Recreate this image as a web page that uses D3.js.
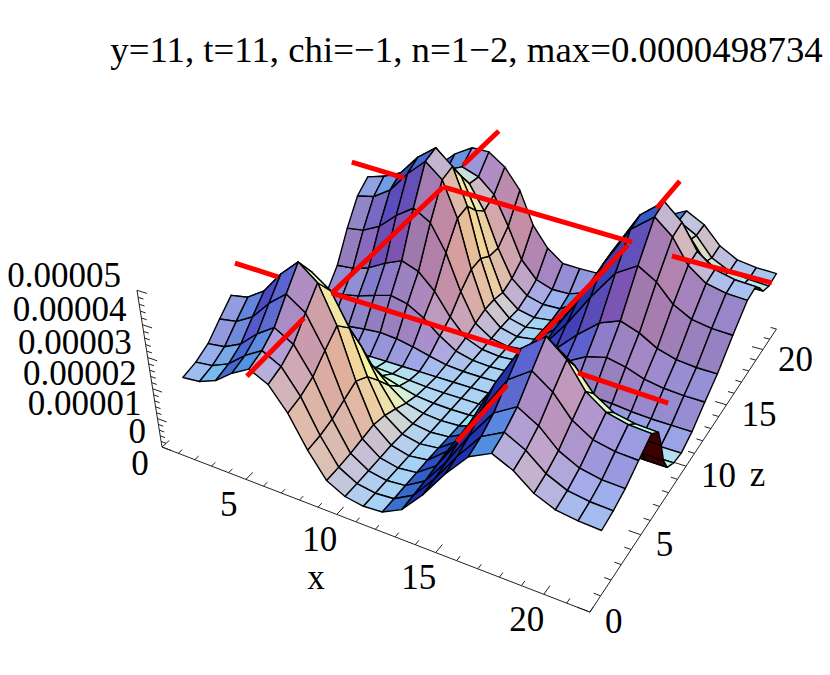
<!DOCTYPE html>
<html>
<head>
<meta charset="utf-8">
<script src="https://cdnjs.cloudflare.com/ajax/libs/d3/7.8.5/d3.min.js"></script>
<style>
  body { margin: 0; background: #fff; }
  text { font-family: "Liberation Serif", serif; fill: #000; }
</style>
</head>
<body>
<div id="chart"></div>
<script>
const titleText = 'y=11, t=11, chi=\u22121, n=1\u22122, max=0.0000498734'

const xValues = [1,1.98,2.95,3.93,4.9,5.88,6.85,7.83,8.8,9.78,10.75,11.73,12.7,13.68,14.65,15.63,16.6,17.58,18.55,19.53,20.5,21.48]
const zValues = [1,1.98,2.95,3.93,4.9,5.88,6.85,7.83,8.8,9.78,10.75,11.73,12.7,13.68,14.65,15.63,16.6,17.58,18.55,19.53,20.5]

// surface heights, unit 1e-7, one row per z, one column per x
const row01 = [218,224,246,288,319,291,221,122,42,10,0,5,38,112,202,278,310,282,237,211,202,198]
const row02 = [231,238,262,306,339,309,235,129,44,10,0,5,41,119,214,296,330,299,252,224,214,211]
const row03 = [255,263,289,338,374,341,259,143,49,11,0,6,45,131,236,326,364,330,278,248,236,233]
const row04 = [299,308,339,396,439,400,304,167,57,13,0,7,53,154,277,383,427,387,326,290,277,273]
const row05 = [340,350,385,450,499,455,345,190,65,15,0,8,60,175,315,435,485,440,370,330,315,310]
const row06 = [299,308,339,396,439,400,304,167,57,13,0,7,53,154,277,383,427,387,326,290,277,273]
const row07 = [211,217,239,279,309,282,214,118,40,9,0,5,37,109,195,270,301,273,229,205,195,192]
const row08 = [112,116,127,149,165,150,114,63,21,5,0,3,20,58,104,144,160,145,122,109,104,102]
const row09 = [41,42,46,54,60,55,41,23,8,2,0,1,7,21,38,52,58,53,44,40,38,37]
const row10 = [10,11,12,14,15,14,10,6,2,0,0,0,2,5,9,13,15,13,11,10,9,9]
const row11 = [0,0,0,0,0,0,0,0,0,0,0,0,0,0,0,0,0,0,0,0,0,0]
const row12 = [34,35,38,45,50,45,34,19,6,1,0,1,6,17,32,43,48,44,37,33,32,31]
const row13 = [99,101,112,130,145,132,100,55,19,4,0,2,17,51,91,126,141,128,107,96,91,90]
const row14 = [156,161,177,207,230,209,159,87,30,7,0,4,28,80,145,200,223,202,170,152,145,143]
const row15 = [252,259,285,333,369,337,255,141,48,11,0,6,44,130,233,322,359,326,274,244,233,229]
const row16 = [330,340,373,436,484,441,335,184,63,15,0,8,58,170,306,422,470,427,359,320,306,301]
const row17 = [364,378,400,460,499,455,345,190,65,15,0,8,60,175,315,435,485,440,370,330,315,310]
const row18 = [320,330,360,420,439,400,304,167,57,13,0,7,53,154,277,383,427,387,326,290,277,273]
const row19 = [280,290,315,360,385,350,275,165,75,30,14,15,52,131,236,326,364,330,278,248,236,233]
const row20 = [250,262,290,335,365,345,300,210,110,55,35,35,55,125,225,305,345,315,260,232,222,216]
const row21 = [280,290,320,370,400,398,362,300,198,134,95,92,91,130,235,320,348,319,268,238,228,224]
const rows = [row01,row02,row03,row04,row05,row06,row07,row08,row09,row10,row11,row12,row13,row14,row15,row16,row17,row18,row19,row20,row21]

// red lattice lines, [x, z] pairs at redHeight, only the parts that show
const redHeight = 4.5e-5
const redLineA = [[[1.52,4.75],[3.96,4.64]], [[6.82,4.6],[15.84,4.31]], [[18.41,4.07],[22.08,3.86]]]
const redLineB = [[[1.0,15.1],[4.25,14.74]], [[6.43,14.74],[16.4,13.8]], [[18.35,13.45],[22.72,13.2]]]
const redLineC = [[[7.14,-1.88],[6.83,2.5]], [[6.82,4.6],[6.43,14.74]], [[6.21,17.09],[6.05,21.08]]]
const redLineD = [[[16.38,-1.63],[16.4,2.18]], [[16.07,5.33],[16.34,13.49]], [[16.2,17.0],[16.17,19.8]]]

const xTicks = [0, 5, 10, 15, 20]
const zTicks = [0, 5, 10, 15, 20]
const hTicks = [0, 1e-5, 2e-5, 3e-5, 4e-5, 5e-5]
const xMinor = d3.range(0, 23)
const zMinor = d3.range(0, 23)
const hMinor = d3.range(0, 26).map(d => d * 2e-6)

const width = 830
const height = 675

const xScale = d3.scaleLinear().domain([0, 22]).range([0, 22])
const zScale = d3.scaleLinear().domain([0, 22]).range([0, 22])
const hScale = d3.scaleLinear().domain([0, 5e-5]).range([0, 1])

// perspective camera, fitted on the box corners
function project(x, z, h) {
  const u = xScale(x), v = zScale(z), t = hScale(h)
  const w = 1 - 0.0078 * u + 0.0104 * v - 0.1136 * t
  return {
    px: (162 + 14.85 * u + 15.1 * v - 40.6 * t) / w,
    py: (447 + 2.73 * u - 7.24 * v - 189.7 * t) / w,
    w: w
  }
}

const svg = d3.select('#chart').append('svg').attr('width', width).attr('height', height)

svg.append('text')
  .attr('x', 466.5).attr('y', 62)
  .attr('text-anchor', 'middle')
  .style('font-size', '36.85px')
  .text(titleText)

const axes = svg.append('g').attr('class', 'axes')
const line = d3.line().x(d => d.px).y(d => d.py)

function axisLine(a, b) {
  axes.append('path').attr('d', line([a, b])).attr('fill', 'none').attr('stroke', '#222').attr('stroke-width', 1)
}

axisLine(project(0, 0, 0), project(22, 0, 0))
axisLine(project(22, 0, 0), project(22, 22, 0))
axisLine(project(0, 0, 0), project(0, 0, 5e-5))

xMinor.forEach(d => {
  const len = d % 5 === 0 ? 0.55 : 0.3
  axisLine(project(d, 0, 0), project(d, len, 0))
})
zMinor.forEach(d => {
  const len = d % 5 === 0 ? 0.55 : 0.3
  axisLine(project(22, d, 0), project(22 - len, d, 0))
})
hMinor.forEach((d, i) => {
  const len = i % 5 === 0 ? 0.55 : 0.3
  axisLine(project(0, 0, d), project(len, 0, d))
})

const labelSize = '35px'

xTicks.forEach(d => {
  const p = project(d, 0, 0)
  const off = d === 0 ? [-22, 16] : [-17, 24]
  axes.append('text').attr('x', p.px + off[0]).attr('y', p.py + off[1]).attr('dy', '.35em')
    .attr('text-anchor', 'middle').style('font-size', labelSize).text(d)
})
zTicks.forEach(d => {
  const p = project(22, d, 0)
  axes.append('text').attr('x', p.px + 15).attr('y', p.py + 9).attr('dy', '.35em')
    .attr('text-anchor', 'start').style('font-size', labelSize).text(d)
})
hTicks.forEach(d => {
  const p = project(0, 0, d)
  axes.append('text').attr('x', p.px - 16).attr('y', p.py - 16).attr('dy', '.35em')
    .attr('text-anchor', 'end').style('font-size', labelSize).text(d === 0 ? '0' : d.toFixed(5))
})

const xName = project(11, 0, 0)
axes.append('text').attr('x', xName.px - 40).attr('y', xName.py + 58).attr('dy', '.25em')
  .attr('text-anchor', 'middle').style('font-size', labelSize).text('x')
const zName = project(22, 11, 0)
axes.append('text').attr('x', zName.px + 63).attr('y', zName.py + 24).attr('dy', '.25em')
  .attr('text-anchor', 'middle').style('font-size', labelSize).text('z')

// view axes of the box, used for the three coloured lights
const ex = [0.883, -0.287, 0.373]
const ez = [0.470, 0.547, -0.693]
const eh = [-0.005, 0.787, 0.618]
const lights = [[0.7071, 0, 0.7071], [0.5774, 0.5774, 0.5774], [0, 0.7071, 0.7071]]

// colour response fitted on flat, wall, ridge and slope cells: base, then normal x, y, z
const redFit = [0.813, 0.231, -0.064, -0.15]
const greenFit = [0.831, 0.1155, 0.215, -0.292]
const blueFit = [0.5, -0.0618, 0.368, 0.266]

function fitted(f, n) {
  return f[0] + f[1] * n[0] + f[2] * n[1] + f[3] * n[2]
}

function shade(hx, hz) {
  let n = [0, 1, 2].map(i => -hx * ex[i] - hz * ez[i] + eh[i])
  const len = Math.hypot(n[0], n[1], n[2])
  n = n.map(d => d / len)
  // cells seen from below get their normal turned to the viewer, and so nearly no light
  const flipped = n[2] < 0
  if (flipped) n = n.map(d => -d)
  const c = lights.map(l => Math.max(0, n[0] * l[0] + n[1] * l[1] + n[2] * l[2]))
  if (flipped) return d3.rgb(60 + 150 * c[0], 150 * c[1], 150 * c[2]).formatHex()
  let r = Math.min(fitted(redFit, n), 0.36 + c[0])
  let g = Math.min(fitted(greenFit, n), 0.3 + 0.9 * c[1])
  let b = fitted(blueFit, n)
  if (c[0] < 0.05) {
    // walls nearly edge on go to a deep blue
    const t = Math.min(1, n[2] / 0.6)
    r = 0.03 + (r - 0.03) * t
    g = 0.15 + (g - 0.15) * t
    b = 0.65 + (b - 0.65) * t
  }
  return d3.rgb(255 * r, 255 * g, 255 * b).formatHex()
}

const cells = []
zValues.slice(0, -1).forEach((z, j) => {
  xValues.slice(0, -1).forEach((x, i) => {
    const x1 = xValues[i + 1], z1 = zValues[j + 1]
    const h00 = rows[j][i] * 1e-7, h10 = rows[j][i + 1] * 1e-7
    const h01 = rows[j + 1][i] * 1e-7, h11 = rows[j + 1][i + 1] * 1e-7
    const pts = [project(x, z, h00), project(x1, z, h10), project(x1, z1, h11), project(x, z1, h01)]
    const hx = (h10 + h11 - h00 - h01) / 2 * 2e4 * 8.8
    const hz = (h01 + h11 - h00 - h10) / 2 * 2e4 * 8.8
    cells.push({ pts: pts, depth: d3.mean(pts, p => p.w), fill: shade(hx, hz) })
  })
})
cells.sort((a, b) => d3.descending(a.depth, b.depth))

svg.append('g').attr('class', 'surface')
  .selectAll('path')
  .data(cells)
  .join('path')
  .attr('d', d => line(d.pts) + 'Z')
  .attr('fill', d => d.fill)
  .attr('stroke', '#000')
  .attr('stroke-width', 1.4)
  .attr('stroke-linejoin', 'round')

const redSegments = [].concat(redLineA, redLineB, redLineC, redLineD)
svg.append('g').attr('class', 'lattice')
  .selectAll('path')
  .data(redSegments)
  .join('path')
  .attr('d', d => line(d.map(p => project(p[0], p[1], redHeight))))
  .attr('fill', 'none')
  .attr('stroke', '#ff0000')
  .attr('stroke-width', 5)
</script>
</body>
</html>
